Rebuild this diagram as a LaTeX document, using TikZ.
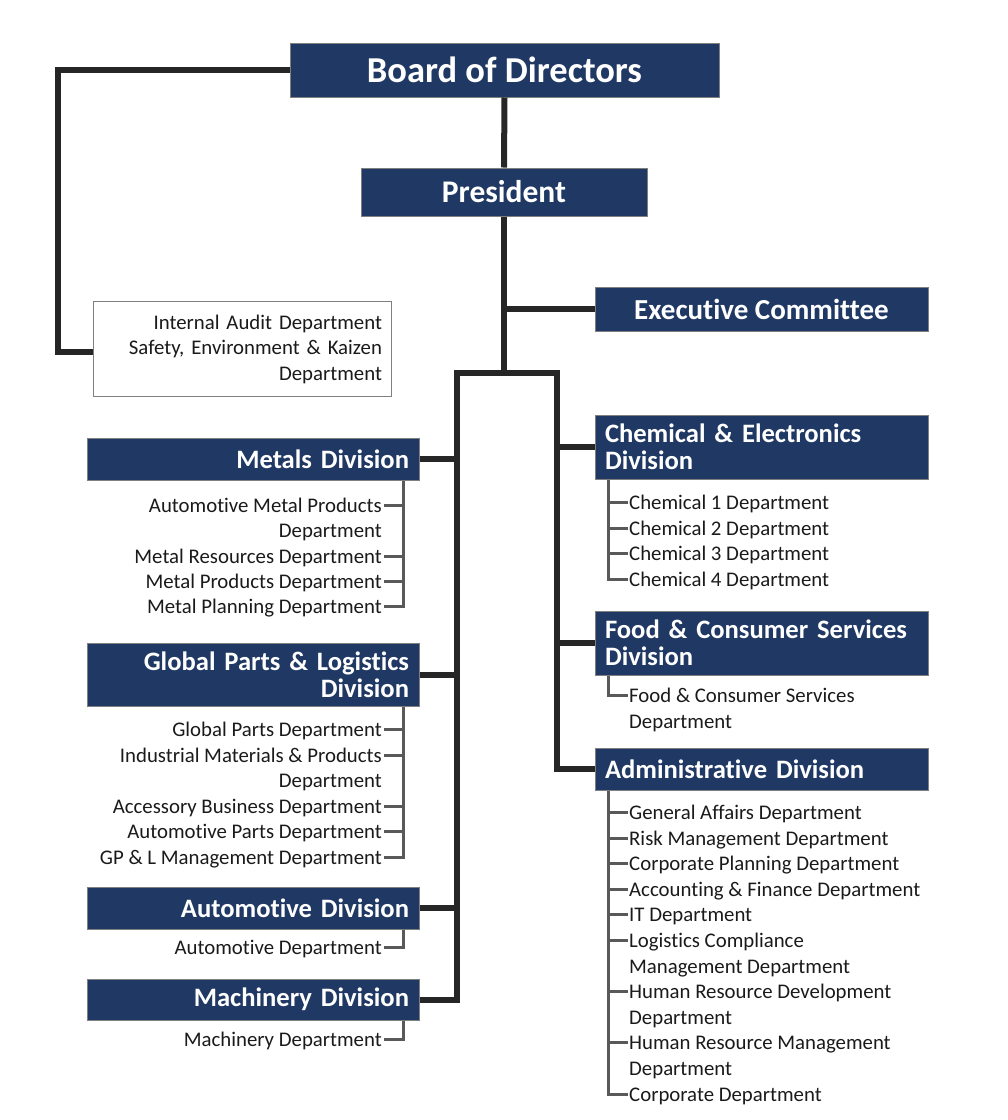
\documentclass[tikz,border=0pt]{standalone}
\usepackage{fontspec}
\setmainfont{Carlito}[RawFeature={-liga;-clig;-dlig}]
\definecolor{navy}{HTML}{203864}
\definecolor{conn}{HTML}{262626}
\definecolor{subc}{HTML}{595959}
\definecolor{deptc}{HTML}{1A1A1A}
\definecolor{boxb}{HTML}{7F7F7F}
\begin{document}
\begin{tikzpicture}[x=1pt,y=-1pt,
 head/.style={fill=navy, draw=boxb, line width=1pt, text=white, inner ysep=0pt, font=\bfseries\fontsize{26.6}{27}\selectfont},
 lhead/.style={head, text width=312pt, inner xsep=10pt, align=right},
 rhead/.style={head, text width=313pt, inner xsep=10pt, align=left},
 dept/.style={font=\fontsize{20.8}{25.5}\selectfont, text=deptc, inner sep=0pt, text height=16pt, text depth=2pt},
 ldept/.style={dept, anchor=east},
 rdept/.style={dept, anchor=west},
 main/.style={draw=conn, line width=6pt, line join=miter},
 sub/.style={draw=subc, line width=3pt, line join=miter}]
\useasboundingbox (0,0) rectangle (1008,1120);

% top nodes
\node[head, minimum width=429pt, minimum height=54pt, font=\bfseries\fontsize{36.5}{40}\selectfont] (board) at (504.5,70) {Board of Directors};
\node[head, minimum width=286pt, minimum height=48pt, font=\bfseries\fontsize{31.5}{34}\selectfont] (pres) at (504,192) {President};
\node[head, minimum width=333pt, minimum height=44pt, font=\bfseries\fontsize{29}{31}\selectfont] (exec) at (761.5,309) {Executive Committee};
\node[draw=boxb, line width=0.8pt, fill=white, minimum height=95pt, text width=280pt, inner xsep=9pt, align=right, font=\fontsize{20.8}{25.5}\selectfont, text=deptc] (audit) at (242,349) {Internal Audit Department\\Safety, Environment \& Kaizen\\Department};

% left divisions
\node[lhead, minimum height=42pt] (metals) at (253,459) {Metals Division};
\node[lhead, minimum height=63pt] (global) at (253,674.5) {Global Parts \& Logistics\\Division};
\node[lhead, minimum height=42pt] (auto) at (253,908) {Automotive Division};
\node[lhead, minimum height=41pt] (mach) at (253,999.5) {Machinery Division};

% right divisions
\node[rhead, minimum height=64pt] (chem) at (761.5,447) {Chemical \& Electronics\\Division};
\node[rhead, minimum height=64pt] (food) at (761.5,643) {Food \& Consumer Services\\Division};
\node[rhead, minimum height=42pt] (admin) at (761.5,769) {Administrative Division};

% metals departments
\node[ldept] (m1) at (382,505) {Automotive Metal Products};
\node[ldept] (m2) at (382,530) {Department};
\node[ldept] (m3) at (382,556) {Metal Resources Department};
\node[ldept] (m4) at (382,581) {Metal Products Department};
\node[ldept] (m5) at (382,606) {Metal Planning Department};

% global parts departments
\node[ldept] (g1) at (382,729) {Global Parts Department};
\node[ldept] (g2) at (382,755) {Industrial Materials \& Products};
\node[ldept] (g3) at (382,780) {Department};
\node[ldept] (g4) at (382,806) {Accessory Business Department};
\node[ldept] (g5) at (382,831) {Automotive Parts Department};
\node[ldept] (g6) at (382,857) {GP \& L Management Department};

\node[ldept] (a1) at (382,947) {Automotive Department};
\node[ldept] (k1) at (382,1039) {Machinery Department};

% chemical departments
\node[rdept] (c1) at (629,502) {Chemical 1 Department};
\node[rdept] (c2) at (629,528) {Chemical 2 Department};
\node[rdept] (c3) at (629,553) {Chemical 3 Department};
\node[rdept] (c4) at (629,579) {Chemical 4 Department};

\node[rdept] (f1) at (629,695) {Food \& Consumer Services};
\node[rdept] (f2) at (629,721) {Department};

% administrative departments
\node[rdept] (d1) at (629,812) {General Affairs Department};
\node[rdept] (d2) at (629,838) {Risk Management Department};
\node[rdept] (d3) at (629,863) {Corporate Planning Department};
\node[rdept] (d4) at (629,889) {Accounting \& Finance Department};
\node[rdept] (d5) at (629,914) {IT Department};
\node[rdept] (d6) at (629,940) {Logistics Compliance};
\node[rdept] (d7) at (629,966) {Management Department};
\node[rdept] (d8) at (629,991) {Human Resource Development};
\node[rdept] (d9) at (629,1017) {Department};
\node[rdept] (d10) at (629,1042) {Human Resource Management};
\node[rdept] (d11) at (629,1068) {Department};
\node[rdept] (d12) at (629,1094) {Corporate Department};

% main connectors
\coordinate (split) at (504,373);
\coordinate (cL) at (457,373);
\coordinate (cR) at (557,373);
\coordinate (bL) at (58,70);
\draw[main] (board.south) -- (pres.north);
\draw[main] (pres.south) -- (split);
\draw[main] (exec.west) -- (exec.west -| pres.south);
\draw[main] (mach.east) -| (cL) -- (cR) |- (admin.west);
\draw[main] (metals.east) -- (metals.east -| cL);
\draw[main] (global.east) -- (global.east -| cL);
\draw[main] (auto.east) -- (auto.east -| cL);
\draw[main] (chem.west) -- (chem.west -| cR);
\draw[main] (food.west) -- (food.west -| cR);
\draw[main] (board.west) -- (bL) |- ([yshift=-3pt]audit.west);

% left sub connectors
\coordinate (mx) at ([xshift=-16pt]metals.south east);
\draw[sub] (mx) |- ([xshift=2pt]m5.east);
\foreach \n in {m1,m3,m4} \draw[sub] ([xshift=2pt]\n.east) -- (\n.east -| mx);
\coordinate (gx) at ([xshift=-16pt]global.south east);
\draw[sub] (gx) |- ([xshift=2pt]g6.east);
\foreach \n in {g1,g2,g4,g5} \draw[sub] ([xshift=2pt]\n.east) -- (\n.east -| gx);
\coordinate (ax) at ([xshift=-16pt]auto.south east);
\draw[sub] (ax) |- ([xshift=2pt]a1.east);
\coordinate (kx) at ([xshift=-16pt]mach.south east);
\draw[sub] (kx) |- ([xshift=2pt]k1.east);

% right sub connectors
\coordinate (cx) at ([xshift=14pt]chem.south west);
\draw[sub] (cx) |- ([xshift=-1pt]c4.west);
\foreach \n in {c1,c2,c3} \draw[sub] ([xshift=-1pt]\n.west) -- (\n.west -| cx);
\coordinate (fx) at ([xshift=14pt]food.south west);
\draw[sub] (fx) |- ([xshift=-1pt]f1.west);
\coordinate (dx) at ([xshift=14pt]admin.south west);
\draw[sub] (dx) |- ([xshift=-1pt]d12.west);
\foreach \n in {d1,d2,d3,d4,d5,d6,d8,d10} \draw[sub] ([xshift=-1pt]\n.west) -- (\n.west -| dx);
\end{tikzpicture}
\end{document}
